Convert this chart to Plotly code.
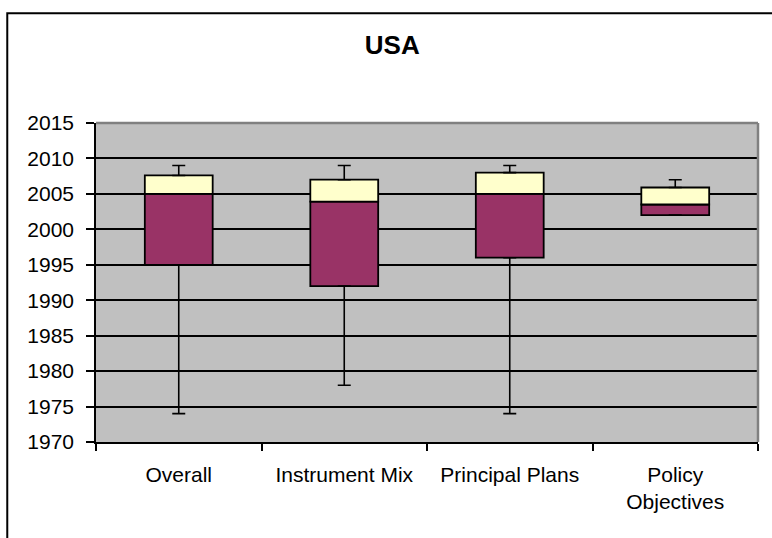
import plotly.graph_objects as go

# ---- data ----
categories = ["Overall", "Instrument Mix", "Principal Plans", "Policy<br>Objectives"]
whisker_low = [1974, 1978, 1974, 2002]
box_low = [1995, 1992, 1996, 2002]
box_mid = [2005, 2003.9, 2005, 2003.5]
box_high = [2007.6, 2007.0, 2008, 2005.9]
whisker_high = [2009, 2009, 2009, 2007]
y_ticks = [1970, 1975, 1980, 1985, 1990, 1995, 2000, 2005, 2010, 2015]

FONT = "Liberation Sans, Arial, sans-serif"
W, H = 772, 538
ML, MR, MT, MB = 95.5, 14, 122.5, 96

fig = go.Figure()

fig.add_trace(go.Bar(
    x=categories,
    y=[m - l for m, l in zip(box_mid, box_low)],
    base=box_low,
    width=0.41,
    marker=dict(color="#993366", line=dict(color="black", width=1.8)),
    hoverinfo="skip",
))
fig.add_trace(go.Bar(
    x=categories,
    y=[h - m for h, m in zip(box_high, box_mid)],
    base=box_mid,
    width=0.41,
    marker=dict(color="#FFFFCC", line=dict(color="black", width=1.8)),
    hoverinfo="skip",
))
# lower whiskers
fig.add_trace(go.Scatter(
    x=categories, y=box_low, mode="markers",
    marker=dict(color="rgba(0,0,0,0)", size=1),
    error_y=dict(type="data", symmetric=False,
                 array=[0] * len(categories),
                 arrayminus=[b - w for b, w in zip(box_low, whisker_low)],
                 color="black", thickness=1.6, width=6.5),
    hoverinfo="skip",
))
# upper whiskers
fig.add_trace(go.Scatter(
    x=categories, y=box_high, mode="markers",
    marker=dict(color="rgba(0,0,0,0)", size=1),
    error_y=dict(type="data", symmetric=False,
                 array=[w - b for w, b in zip(whisker_high, box_high)],
                 arrayminus=[0] * len(categories),
                 color="black", thickness=1.6, width=6.5),
    hoverinfo="skip",
))

pw = W - ML - MR
ph = H - MT - MB

fig.update_layout(
    width=W, height=H,
    margin=dict(l=ML, r=MR, t=MT, b=MB, pad=0),
    paper_bgcolor="white",
    plot_bgcolor="#C0C0C0",
    barmode="overlay",
    showlegend=False,
    font=dict(family=FONT, size=21, color="black"),
    title=dict(
        text="<b>USA</b>",
        font=dict(family=FONT, size=26, color="black"),
        x=(392 - ML) / pw, xref="paper", xanchor="center",
        y=1 - 45 / H, yref="container", yanchor="middle",
    ),
    xaxis=dict(
        type="category",
        range=[-0.5, 3.5],
        showgrid=False,
        showline=True, linecolor="black", linewidth=1.6,
        ticks="outside", tickson="boundaries", ticklen=7, tickwidth=1.5, tickcolor="black",
        ticklabelstandoff=13,
        tickfont=dict(family=FONT, size=21, color="black"),
    ),
    yaxis=dict(
        range=[1970, 2015],
        tickvals=y_ticks,
        showgrid=True, gridcolor="black", gridwidth=1.6,
        zeroline=False,
        showline=True, linecolor="black", linewidth=1.6,
        ticks="outside", ticklen=8, tickwidth=1.5, tickcolor="black",
        ticklabelstandoff=8,
        tickfont=dict(family=FONT, size=21, color="black"),
    ),
    shapes=[
        # plot area top / right border (gray)
        dict(type="line", xref="x domain", yref="y domain", x0=0, x1=1, y0=1, y1=1,
             line=dict(color="#808080", width=2.5), layer="above"),
        dict(type="line", xref="x domain", yref="y domain", x0=1, x1=1, y0=0, y1=1,
             line=dict(color="#808080", width=2.5), layer="above"),
        # outer chart border (extends past right and bottom edges)
        dict(type="rect", xref="paper", yref="paper",
             x0=(6.7 - ML) / pw, x1=(W + 20 - ML) / pw,
             y0=-(MB + 20) / ph, y1=(H - MB - 12.7) / ph,
             line=dict(color="black", width=2), layer="above"),
    ],
)

fig.write_html(
    "out.html",
    config={"displayModeBar": False},
    post_script="document.body.style.margin='0';document.body.style.overflow='hidden';",
)
